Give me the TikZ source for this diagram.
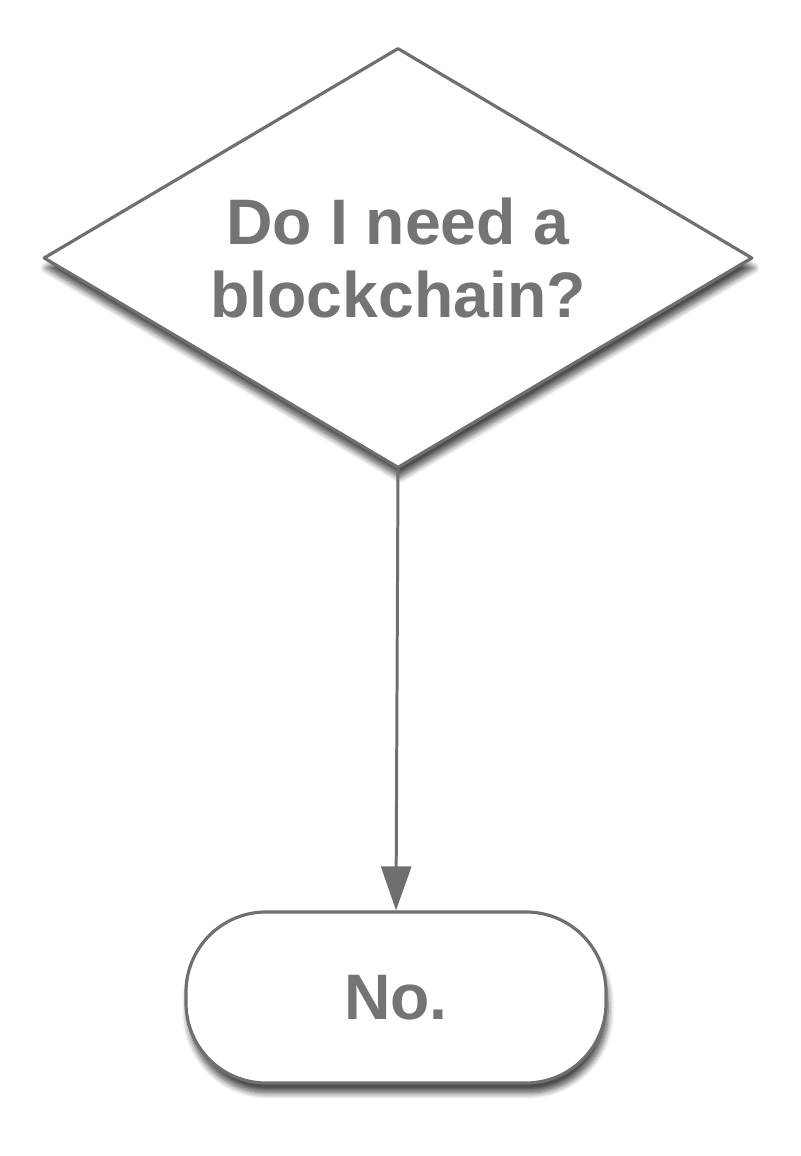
\documentclass[tikz,border=0pt]{standalone}
\usepackage{fontspec}
\setmainfont{Liberation Sans}
\usetikzlibrary{shapes.geometric,shadows.blur,arrows.meta,positioning}
\definecolor{flowgray}{HTML}{6E6F6E}
\definecolor{textgray}{HTML}{747474}
\begin{document}
\begin{tikzpicture}[line join = round, line cap=round,>={Triangle[width=0.3cm,length=0.44cm]},
		font=\fontsize{18.3}{20.8}\selectfont\bfseries,
		flowshadow/.style={blur shadow={shadow xshift=0.02cm,shadow yshift=-0.1cm,
			shadow blur radius=0.06cm,shadow blur steps=8,shadow opacity=70}},
		question/.style={shape=diamond,aspect=1.69,draw=flowgray,line width=0.9pt,fill=white,inner sep=0pt,
			minimum width=7.09cm,minimum height=4.2cm,text=textgray,align=center,flowshadow},
		answer/.style={rectangle,rounded corners=0.8cm,draw=flowgray,line width=0.9pt,fill=white,
			minimum width=4.2cm,minimum height=1.71cm,text=textgray,flowshadow}]
			\useasboundingbox (0,0) rectangle (8,11.56);
			\node[question] (need) at (3.98,8.98) {Do I need a\\blockchain?};
			\node[answer] (no) at (3.96,1.585) {No.};
			\draw[->,flowgray,line width=0.85pt] (need.south) -- (no.north);
		\end{tikzpicture}
\end{document}
